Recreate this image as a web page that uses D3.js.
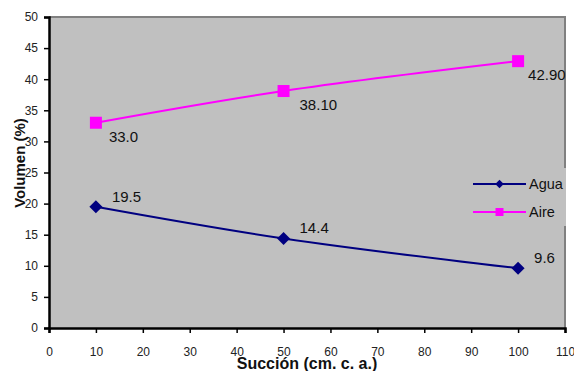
<!DOCTYPE html>
<html>
<head>
<meta charset="utf-8">
<script src="https://cdn.jsdelivr.net/npm/d3@7"></script>
<style>
  html, body { margin: 0; padding: 0; background: #fff; }
  svg { display: block; font-family: "Liberation Sans", Arial, sans-serif; }
</style>
</head>
<body>
<svg id="chart" width="574" height="371"></svg>
<script>
// Suction (cm of water column) against volume fraction (%)
const succion = [10, 50, 100];
const agua = [19.5, 14.4, 9.6];
const aire = [33.0, 38.1, 42.9];
const aguaLabels = ["19.5", "14.4", "9.6"];
const aireLabels = ["33.0", "38.10", "42.90"];
const xTicks = [0, 10, 20, 30, 40, 50, 60, 70, 80, 90, 100, 110];
const yTicks = [0, 5, 10, 15, 20, 25, 30, 35, 40, 45, 50];

const svg = d3.select("#chart");
const plotL = 49, plotR = 565, plotT = 17, plotB = 328;

const x = d3.scaleLinear().domain([0, 110]).range([plotL, plotR]);
const y = d3.scaleLinear().domain([0, 50]).range([plotB, plotT]);

// plot area
svg.append("rect")
  .attr("x", plotL).attr("y", plotT)
  .attr("width", plotR - plotL).attr("height", plotB - plotT)
  .attr("fill", "#c0c0c0");

// top and right frame
svg.append("path")
  .attr("d", `M${plotL},${plotT}H${plotR}V${plotB}`)
  .attr("fill", "none").attr("stroke", "#808080").attr("stroke-width", 2);

// axes
const xAxis = svg.append("g")
  .attr("transform", `translate(0,${plotB})`)
  .call(d3.axisBottom(x).tickValues(xTicks).tickSize(5).tickPadding(14).tickFormat(d3.format("d")));
const yAxis = svg.append("g")
  .attr("transform", `translate(${plotL},0)`)
  .call(d3.axisLeft(y).tickValues(yTicks).tickSize(5).tickPadding(6).tickFormat(d3.format("d")));

[xAxis, yAxis].forEach(g => {
  g.select(".domain").attr("stroke", "#000").attr("stroke-width", 2.5);
  g.selectAll(".tick line").attr("stroke", "#000").attr("stroke-width", 1.5);
  g.selectAll(".tick text").attr("fill", "#222").style("font-size", "12px")
    .style("font-family", "'Liberation Sans', Arial, sans-serif");
});

// smoothed series lines
const line = d3.line().curve(d3.curveCatmullRom.alpha(0.5));

function drawSeries(values, color) {
  const pts = succion.map((s, i) => [x(s), y(values[i])]);
  svg.append("path")
    .attr("d", line(pts))
    .attr("fill", "none").attr("stroke", color).attr("stroke-width", 2);
  return pts;
}

const aguaPts = drawSeries(agua, "#000080");
const airePts = drawSeries(aire, "#ff00ff");

// markers
svg.selectAll(".m-agua").data(aguaPts).enter().append("path")
  .attr("transform", d => `translate(${d[0]},${d[1]}) rotate(45)`)
  .attr("d", "M-4.6,-4.6H4.6V4.6H-4.6Z")
  .attr("fill", "#000080");

svg.selectAll(".m-aire").data(airePts).enter().append("rect")
  .attr("x", d => d[0] - 6).attr("y", d => d[1] - 6)
  .attr("width", 12).attr("height", 12)
  .attr("fill", "#ff00ff");

// value labels
const labelStyle = sel => sel.style("font-size", "15px").attr("fill", "#111");

svg.selectAll(".l-agua").data(aguaPts).enter().append("text")
  .attr("x", d => d[0] + 16).attr("y", d => d[1] - 5)
  .text((d, i) => aguaLabels[i]).call(labelStyle);

svg.selectAll(".l-aire").data(airePts).enter().append("text")
  .attr("x", (d, i) => d[0] + [13, 16, 10][i]).attr("y", d => d[1] + 19)
  .text((d, i) => aireLabels[i]).call(labelStyle);

// legend
const lg = svg.append("g");
lg.append("rect").attr("x", 466).attr("y", 168).attr("width", 100).attr("height", 58)
  .attr("fill", "#c0c0c0");
const legendItems = [
  { name: "Agua", color: "#000080", shape: "diamond", yy: 184 },
  { name: "Aire", color: "#ff00ff", shape: "square", yy: 212 }
];
legendItems.forEach(it => {
  lg.append("line").attr("x1", 473).attr("x2", 526).attr("y1", it.yy).attr("y2", it.yy)
    .attr("stroke", it.color).attr("stroke-width", 2);
  if (it.shape === "diamond") {
    lg.append("path").attr("transform", `translate(499.5,${it.yy}) rotate(45)`)
      .attr("d", "M-3,-3H3V3H-3Z").attr("fill", it.color);
  } else {
    lg.append("rect").attr("x", 495.5).attr("y", it.yy - 4).attr("width", 8).attr("height", 8)
      .attr("fill", it.color);
  }
  lg.append("text").attr("x", 529).attr("y", it.yy + 5).text(it.name)
    .style("font-size", "14.5px").attr("fill", "#111");
});

// axis titles
svg.append("text")
  .attr("x", 307).attr("y", 369).attr("text-anchor", "middle")
  .style("font-size", "16px").style("font-weight", "bold").attr("fill", "#111")
  .text("Succión (cm. c. a.)");

svg.append("text")
  .attr("transform", "translate(25,163) rotate(-90)").attr("text-anchor", "middle")
  .style("font-size", "15px").style("font-weight", "bold").attr("fill", "#111")
  .text("Volumen (%)");
</script>
</body>
</html>
